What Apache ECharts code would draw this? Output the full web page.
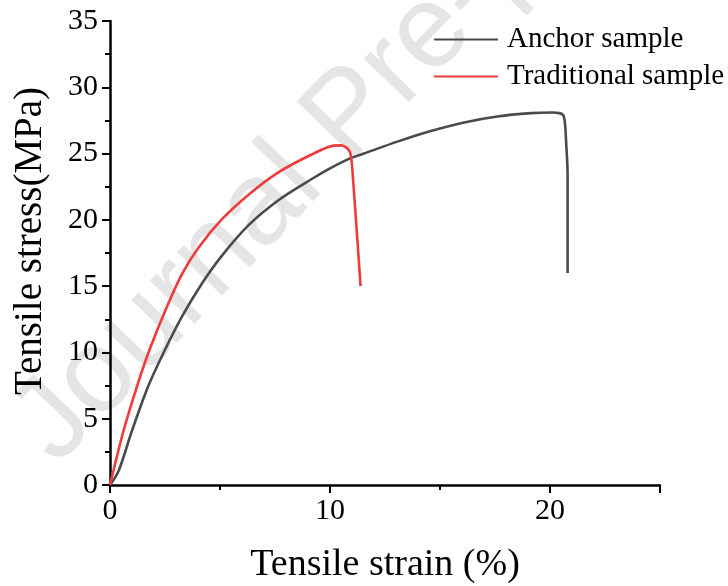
<!DOCTYPE html>
<html>
<head>
<meta charset="utf-8">
<script src="https://cdn.jsdelivr.net/npm/echarts@6/dist/echarts.min.js"></script>
<style>
html,body{margin:0;padding:0;background:#fff;}
#chart{width:728px;height:586px;}
</style>
</head>
<body>
<div id="chart"></div>
<script>
// ---- data ----
const seriesNames = ['Anchor sample', 'Traditional sample'];
const anchorStrain = [0, 0.4, 1.0, 1.75, 2.5, 3.27, 4.18, 5.09, 6.3, 7.67, 9.19, 10.02, 10.86, 11.54, 13.06, 14.58, 16.1, 17.6, 19.13, 20.1, 20.43, 20.6, 20.68, 20.73, 20.8, 20.8];
const anchorStress = [0, 1.1, 4.1, 7.5, 10.2, 12.7, 15.2, 17.3, 19.6, 21.5, 23.1, 23.9, 24.6, 25.0, 25.9, 26.7, 27.35, 27.8, 28.05, 28.1, 28.05, 27.9, 27.3, 25.96, 23.4, 16.0];
const tradStrain = [0, 0.6, 1.21, 1.75, 2.5, 3.27, 4.02, 5.09, 6.3, 7.67, 9.19, 10.17, 10.5, 10.7, 10.88, 10.95, 11.01, 11.39];
const tradStress = [0, 4.0, 7.35, 9.99, 13.1, 15.9, 17.9, 20.05, 21.9, 23.6, 24.95, 25.6, 25.62, 25.5, 25.2, 24.8, 23.95, 15.0];
const xTickLabels = ['0', '10', '20'];
const yTickLabels = ['0', '5', '10', '15', '20', '25', '30', '35'];
const xTitle = 'Tensile strain (%)';
const yTitle = 'Tensile stress(MPa)';
const watermark = 'Journal Pre-proof';

const zip = (a, b) => a.map((v, i) => [v, b[i]]);
const serif = '"Liberation Serif", "Times New Roman", serif';
const wmAngle = 46 * Math.PI / 180;

const chart = echarts.init(document.getElementById('chart'), null, {renderer: 'canvas'});
const option = {
  animation: false,
  backgroundColor: '#fff',
  graphic: [{
    type: 'text',
    z: -10,
    x: 76, y: 485,
    rotation: wmAngle,
    silent: true,
    style: {
      text: watermark,
      fontFamily: '"Liberation Sans", Arial, sans-serif',
      fontSize: 118,
      fill: '#e5e5e5',
      align: 'left',
      verticalAlign: 'bottom'
    }
  }],
  grid: {left: 110, right: 68, top: 21, bottom: 101, containLabel: false, outerBoundsMode: 'none'},
  legend: {
    left: 429, top: 20, orient: 'vertical',
    itemWidth: 64, itemHeight: 14, itemGap: 8,
    icon: 'path://M0,6 L64,6 L64,8 L0,8 Z',
    data: seriesNames,
    textStyle: {fontFamily: serif, fontSize: 29, color: '#000', padding: [0, 0, 0, 4]}
  },
  xAxis: [{
    type: 'value', min: 0, max: 25, interval: 10,
    name: xTitle, nameLocation: 'middle', nameGap: 61,
    nameTextStyle: {fontFamily: serif, fontSize: 38, color: '#000'},
    axisLine: {show: true, lineStyle: {color: '#000', width: 2.5}},
    axisTick: {show: true, length: 8, lineStyle: {color: '#000', width: 2}},
    axisLabel: {fontFamily: serif, fontSize: 30, color: '#000', margin: 11,
      formatter: v => xTickLabels.includes(String(v)) ? String(v) : ''},
    splitLine: {show: false}
  }, {
    type: 'value', min: 0, max: 25, interval: 5, position: 'bottom',
    axisLine: {show: false},
    axisTick: {show: true, length: 5, lineStyle: {color: '#000', width: 2}},
    axisLabel: {show: false},
    splitLine: {show: false}
  }],
  yAxis: {
    type: 'value', min: 0, max: 35, interval: 5,
    name: yTitle, nameLocation: 'middle', nameGap: 60,
    nameTextStyle: {fontFamily: serif, fontSize: 39, color: '#000', padding: [0, 0, 0, 24]},
    axisLine: {show: true, lineStyle: {color: '#000', width: 2.5}},
    axisTick: {show: true, length: 8, lineStyle: {color: '#000', width: 2}},
    minorTick: {show: true, splitNumber: 2, length: 5, lineStyle: {color: '#000', width: 2}},
    axisLabel: {fontFamily: serif, fontSize: 30, color: '#000', margin: 12,
      formatter: v => yTickLabels.includes(String(v)) ? String(v) : ''},
    splitLine: {show: false}
  },
  series: [{
    name: seriesNames[0], type: 'line', xAxisIndex: 0,
    data: zip(anchorStrain, anchorStress),
    showSymbol: false, symbol: 'none', smooth: 0.3,
    lineStyle: {color: '#4a4a4a', width: 2.6},
    itemStyle: {color: '#4a4a4a'}
  }, {
    name: seriesNames[1], type: 'line', xAxisIndex: 0,
    data: zip(tradStrain, tradStress),
    showSymbol: false, symbol: 'none', smooth: 0.3,
    lineStyle: {color: '#ef3b3b', width: 2.6},
    itemStyle: {color: '#ef3b3b'}
  }]
};
chart.setOption(option);
</script>
</body>
</html>
